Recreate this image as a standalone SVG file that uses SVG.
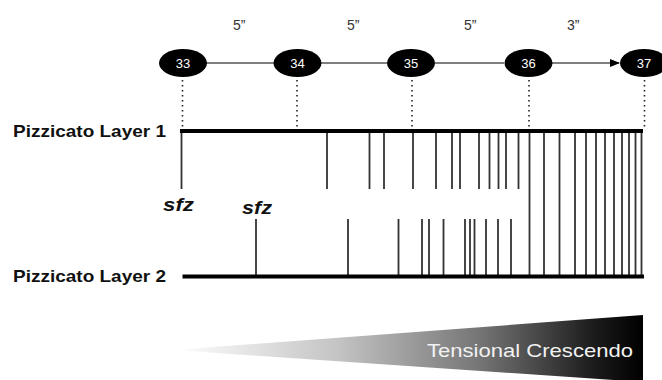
<svg xmlns="http://www.w3.org/2000/svg" width="662" height="380" viewBox="0 0 662 380">
  <style>
    .dur { font-family: "Liberation Sans", Arial, sans-serif; font-size: 14px; fill: #333; }
    .num { font-family: "Liberation Sans", Arial, sans-serif; font-size: 13px; fill: #fff; text-anchor: middle; }
    .node { fill: #000; }
    .layer { font-family: "Liberation Sans", Arial, sans-serif; font-size: 17px; font-weight: bold; fill: #111; }
    .sfz { font-family: "Liberation Sans", Arial, sans-serif; font-size: 19px; font-weight: bold; font-style: italic; fill: #111; }
    .link { stroke: #000; stroke-width: 1.2; fill: none; }
    .dots { stroke: #222; stroke-width: 1.6; stroke-dasharray: 1.6 3.4; fill: none; }
    .track { stroke: #000; stroke-width: 4; fill: none; }
    .tick { stroke: #333; stroke-width: 1.8; fill: none; }
    .cresc { font-family: "Liberation Sans", Arial, sans-serif; font-size: 19px; fill: #f2f2f2; }
  </style>
  <defs>
    <marker id="arrow" markerWidth="10" markerHeight="8" refX="9" refY="4" orient="auto" markerUnits="userSpaceOnUse">
      <path d="M0,0 L10,4 L0,8 Z" fill="#000"/>
    </marker>
    <linearGradient id="wedgeFill" x1="173" y1="0" x2="643" y2="0" gradientUnits="userSpaceOnUse">
      <stop offset="0" stop-color="#ffffff"/>
      <stop offset="0.35" stop-color="#c4c4c4"/>
      <stop offset="0.65" stop-color="#767676"/>
      <stop offset="0.9" stop-color="#1a1a1a"/>
      <stop offset="1" stop-color="#000000"/>
    </linearGradient>
  </defs>

  <!-- durations between bars -->
  <g id="durations">
    <text class="dur" x="233" y="30">5”</text>
    <text class="dur" x="347" y="30">5”</text>
    <text class="dur" x="464" y="30">5”</text>
    <text class="dur" x="567" y="30">3”</text>
  </g>

  <!-- connectors -->
  <g id="connectors">
    <line class="link" x1="206" y1="63" x2="274" y2="63"/>
    <line class="link" x1="321" y1="63" x2="387" y2="63"/>
    <line class="link" x1="435" y1="63" x2="504" y2="63"/>
    <line class="link" x1="552" y1="63" x2="619" y2="63" marker-end="url(#arrow)"/>
    <line class="dots" x1="182.5" y1="80" x2="182.5" y2="128"/>
    <line class="dots" x1="297" y1="80" x2="297" y2="128"/>
    <line class="dots" x1="412" y1="80" x2="412" y2="128"/>
    <line class="dots" x1="529" y1="80" x2="529" y2="128"/>
    <line class="dots" x1="644.5" y1="80" x2="644.5" y2="128"/>
  </g>

  <!-- bar nodes -->
  <g id="bar33"><ellipse class="node" cx="183" cy="63" rx="24" ry="14"/><text class="num" x="183" y="68">33</text></g>
  <g id="bar34"><ellipse class="node" cx="297.5" cy="63" rx="24" ry="14"/><text class="num" x="297.5" y="68">34</text></g>
  <g id="bar35"><ellipse class="node" cx="411" cy="63" rx="24" ry="14"/><text class="num" x="411" y="68">35</text></g>
  <g id="bar36"><ellipse class="node" cx="528.5" cy="63" rx="24" ry="14"/><text class="num" x="528.5" y="68">36</text></g>
  <g id="bar37"><ellipse class="node" cx="644" cy="63" rx="24" ry="14"/><text class="num" x="644" y="68">37</text></g>

  <!-- layer labels -->
  <g id="labels">
    <text class="layer" x="13" y="136.5" textLength="153" lengthAdjust="spacingAndGlyphs">Pizzicato Layer 1</text>
    <text class="layer" x="13" y="281.5" textLength="153" lengthAdjust="spacingAndGlyphs">Pizzicato Layer 2</text>
    <text class="sfz" x="163" y="210.5" textLength="31" lengthAdjust="spacingAndGlyphs">sfz</text>
    <text class="sfz" x="242" y="213.5" textLength="30" lengthAdjust="spacingAndGlyphs">sfz</text>
  </g>

  <!-- layer 1 attacks -->
  <g id="layer1-ticks">
    <path class="tick" d="M181.5,131V189 M327,131V189 M369.5,131V189 M384,131V189 M413,131V189 M436,131V189 M452,131V189 M460,131V189 M479,131V189 M489.5,131V189 M498.5,131V189 M506,131V189 M518.5,131V189"/>
  </g>

  <!-- layer 2 attacks -->
  <g id="layer2-ticks">
    <path class="tick" d="M256,219V276 M348,219V276 M398.5,219V276 M422,219V276 M429,219V276 M443.5,219V276 M465,219V276 M470,219V276 M474.5,219V276 M486,219V276 M498,219V276 M511,219V276"/>
  </g>

  <!-- shared attacks spanning both layers -->
  <g id="shared-ticks">
    <path class="tick" d="M529.5,131V276 M544,131V276 M559.5,131V276 M575,131V276 M586,131V276 M596,131V276 M605,131V276 M614,131V276 M622,131V276 M629,131V276 M635.5,131V276 M641.5,131V276"/>
  </g>

  <!-- layer tracks -->
  <g id="tracks">
    <line class="track" x1="180" y1="131" x2="643" y2="131"/>
    <line class="track" x1="182.5" y1="276.5" x2="644" y2="276.5"/>
  </g>

  <!-- crescendo wedge -->
  <g id="crescendo">
    <polygon points="173,350 643,315 643,382" fill="url(#wedgeFill)"/>
    <text class="cresc" x="427" y="357" textLength="206" lengthAdjust="spacingAndGlyphs">Tensional Crescendo</text>
  </g>
</svg>
